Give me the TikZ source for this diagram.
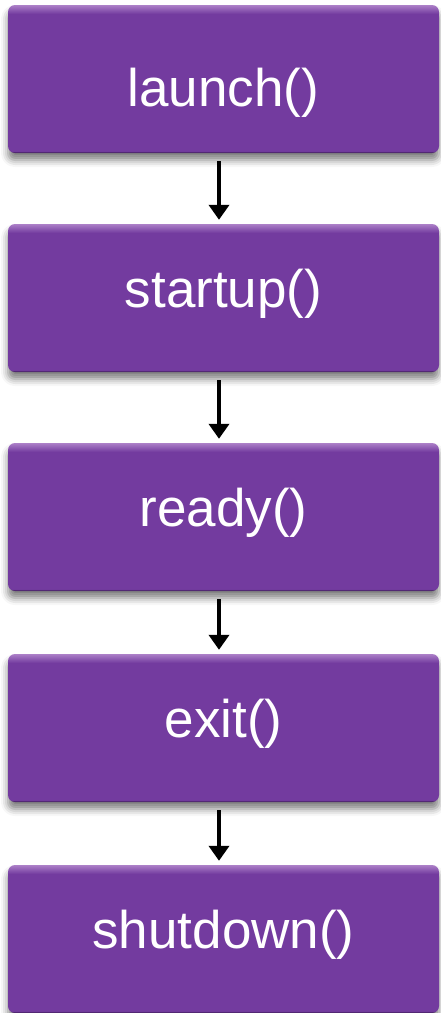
\documentclass[tikz,border=0pt]{standalone}
\usepackage{fontspec}
\setmainfont{Liberation Sans}
\usepackage{tikz}
\usetikzlibrary{arrows.meta, shadows.blur}
\definecolor{callpurple}{RGB}{115,59,159}
\definecolor{calltop}{RGB}{172,128,200}
\definecolor{calldark}{RGB}{50,22,72}
\pgfdeclareverticalshading{callshade}{100bp}{color(0bp)=(calldark); color(25bp)=(calldark); color(25.7bp)=(callpurple); color(72bp)=(callpurple); color(75bp)=(calltop); color(100bp)=(calltop)}
\tikzstyle{callbox} = [rectangle, rounded corners=7pt, shading=callshade, minimum width=431pt, minimum height=148pt, inner sep=0pt, text=white, font=\fontsize{53}{60}\selectfont, text depth=19pt, blur shadow={shadow xshift=0pt, shadow yshift=-7pt, shadow blur radius=7pt, shadow opacity=50}]
\tikzstyle{arrow} = [line width=4.5pt, -{Triangle[width=20pt,length=15pt]}, shorten <=8pt, shorten >=4pt]

\begin{document}
\begin{tikzpicture}[x=1pt, y=1pt, node distance=219pt]
\useasboundingbox (0,0) rectangle (441,-1013);

\node (launch) [callbox, text height=54pt, text depth=0pt] at (223.5,-79) {launch()};
\node (startup) [callbox, below of=launch] {startup()};
\node (ready) [callbox, below of=startup] {ready()};
\node (exit) [callbox, below of=ready, node distance=211pt] {exit()};
\node (shutdown) [callbox, below of=exit, node distance=211pt] {shutdown()};

\draw[arrow] ([xshift=-4.5pt]launch.south) -- ([xshift=-4.5pt]startup.north);
\draw[arrow] ([xshift=-4.5pt]startup.south) -- ([xshift=-4.5pt]ready.north);
\draw[arrow] ([xshift=-4.5pt]ready.south) -- ([xshift=-4.5pt]exit.north);
\draw[arrow] ([xshift=-4.5pt]exit.south) -- ([xshift=-4.5pt]shutdown.north);

\end{tikzpicture}
\end{document}
